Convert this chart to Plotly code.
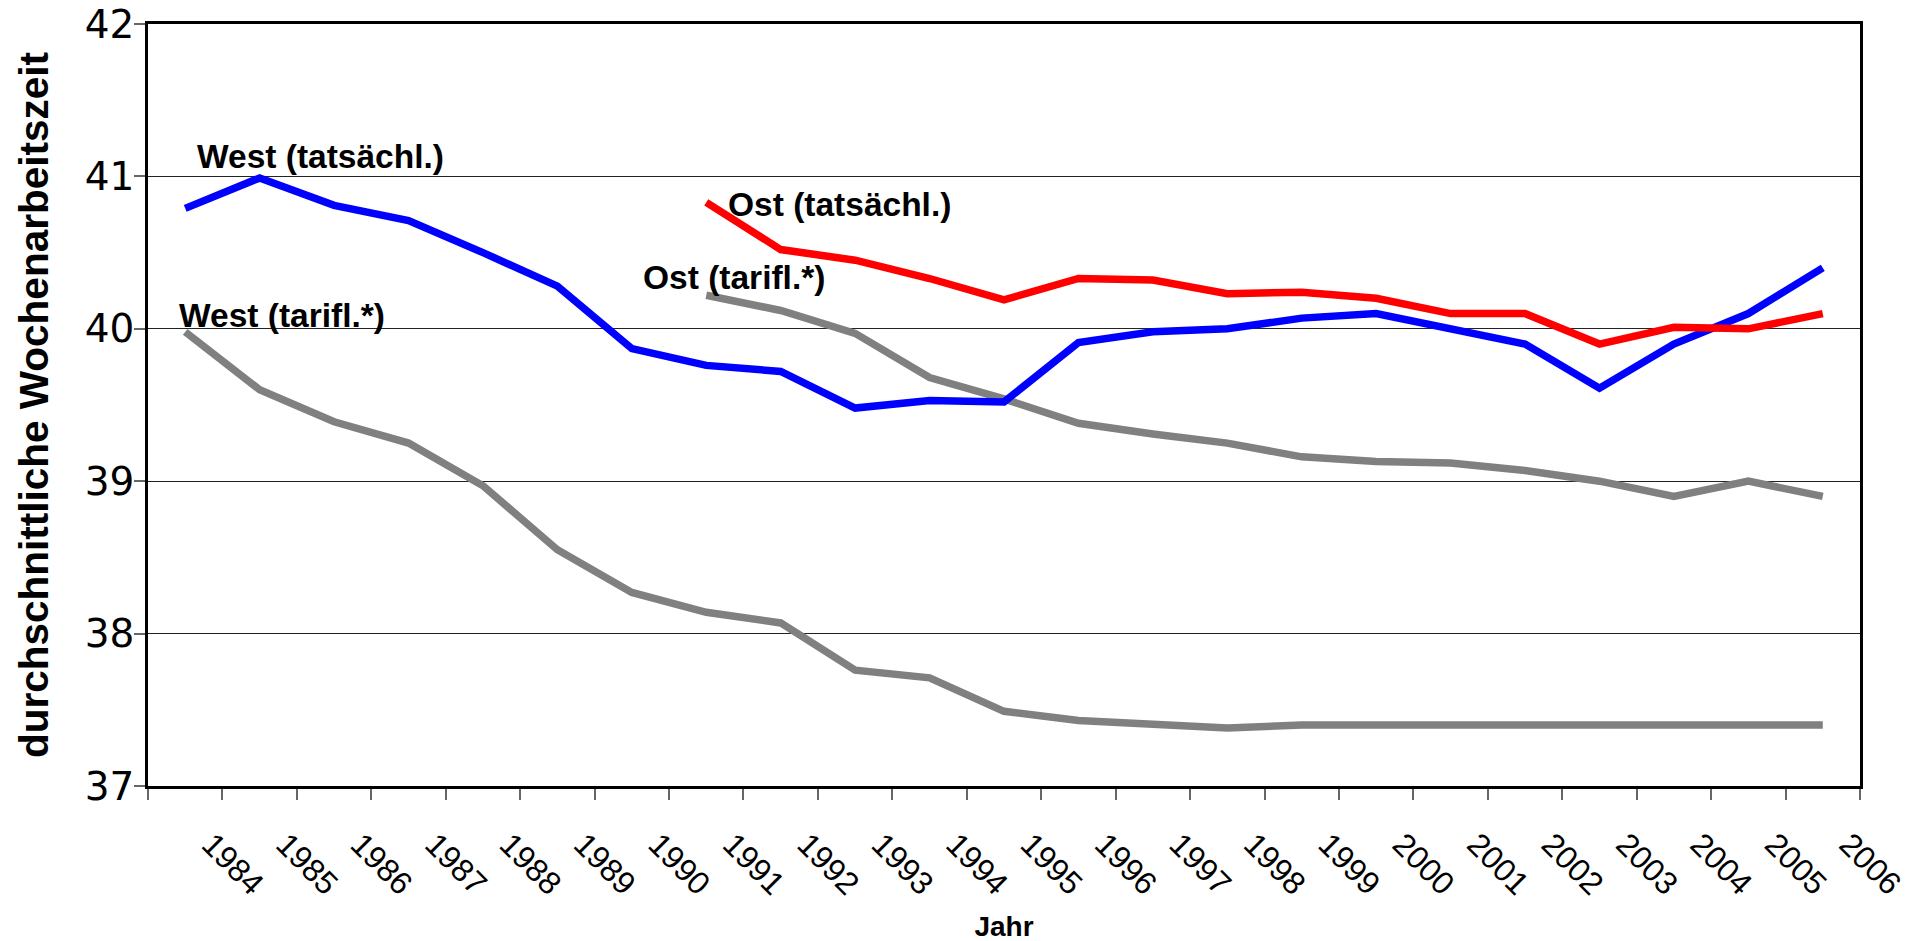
import plotly.graph_objects as go

years = [str(y) for y in range(1984, 2007)]

west_tats = [40.79, 40.99, 40.81, 40.71, 40.50, 40.28, 39.87, 39.76, 39.72, 39.48, 39.53, 39.52,
             39.91, 39.98, 40.00, 40.07, 40.10, 40.00, 39.90, 39.61, 39.90, 40.10, 40.40]
west_tarif = [39.98, 39.60, 39.39, 39.25, 38.97, 38.55, 38.27, 38.14, 38.07, 37.76, 37.71, 37.49,
              37.43, 37.41, 37.38, 37.40, 37.40, 37.40, 37.40, 37.40, 37.40, 37.40, 37.40]
ost_years = [str(y) for y in range(1991, 2007)]
ost_tats = [40.83, 40.52, 40.45, 40.33, 40.19, 40.33, 40.32, 40.23, 40.24, 40.20, 40.10, 40.10,
            39.90, 40.01, 40.00, 40.10]
ost_tarif = [40.22, 40.12, 39.97, 39.68, 39.54, 39.38, 39.31, 39.25, 39.16, 39.13, 39.12, 39.07,
             39.00, 38.90, 39.00, 38.90]

labels = ["West (tatsächl.)", "West (tarifl.*)", "Ost (tatsächl.)", "Ost (tarifl.*)"]

FONT = "Liberation Sans, Arial, sans-serif"
GRAY = "#808080"

fig = go.Figure()
fig.add_trace(go.Scatter(x=years, y=west_tarif, mode="lines", name=labels[1],
                         line=dict(color=GRAY, width=7.5)))
fig.add_trace(go.Scatter(x=ost_years, y=ost_tarif, mode="lines", name=labels[3],
                         line=dict(color=GRAY, width=7.5)))
fig.add_trace(go.Scatter(x=years, y=west_tats, mode="lines", name=labels[0],
                         line=dict(color="#0000FF", width=7.5)))
fig.add_trace(go.Scatter(x=ost_years, y=ost_tats, mode="lines", name=labels[2],
                         line=dict(color="#FF0000", width=7.5)))

# plot area in page pixels (page has an 8px body margin)
OFF = 8
L, R, T, B = 148, 1860, 24, 786
# left x, baseline y of each label in page pixels (converted to paper coords below)
ann_px = [(195, 168), (177, 327), (726, 216), (641, 289)]
for lab, (px, py) in zip(labels, ann_px):
    fig.add_annotation(text="<b>%s</b>" % lab, xref="paper", yref="paper",
                       x=(px - L) / (R - L), y=(B - (py - 12)) / (B - T),
                       xanchor="left", yanchor="middle", showarrow=False,
                       font=dict(family=FONT, size=33.5, color="black"))

fig.update_layout(
    width=1910, height=941,
    margin=dict(l=L - OFF, r=1910 - (R - OFF), t=T - OFF, b=941 - (B - OFF)),
    paper_bgcolor="white", plot_bgcolor="white",
    showlegend=False,
    font=dict(family=FONT, color="black"),
)
fig.update_xaxes(
    type="category", categoryorder="array", categoryarray=years,
    range=[-0.5, 22.5], tickson="boundaries", automargin=False,
    ticks="outside", ticklen=11, tickwidth=1.5, tickcolor="#666",
    tickangle=45, tickfont=dict(family=FONT, size=32, color="black"),
    ticklabelstandoff=24, ticklabelshift=26, ticklabeloverflow="allow",
    showline=True, linecolor="black", linewidth=2.5, mirror=True,
    showgrid=False, zeroline=False,
    title=dict(text="<b>Jahr</b>", font=dict(family=FONT, size=28, color="black"), standoff=16),
)
fig.update_yaxes(
    range=[37, 42], dtick=1, tick0=37, automargin=False,
    ticks="outside", ticklen=11, tickwidth=1.5, tickcolor="#666",
    tickfont=dict(family="DejaVu Sans, " + FONT, size=39, color="black"),
    ticklabelstandoff=-8, ticklabeloverflow="allow",
    showline=True, linecolor="black", linewidth=2.5, mirror=True,
    showgrid=True, gridcolor="#222", gridwidth=1, zeroline=False,
    title=dict(text="<b>durchschnittliche Wochenarbeitszeit</b>",
               font=dict(family=FONT, size=40.5, color="black"), standoff=24),
)

fig.write_html("out.html")
